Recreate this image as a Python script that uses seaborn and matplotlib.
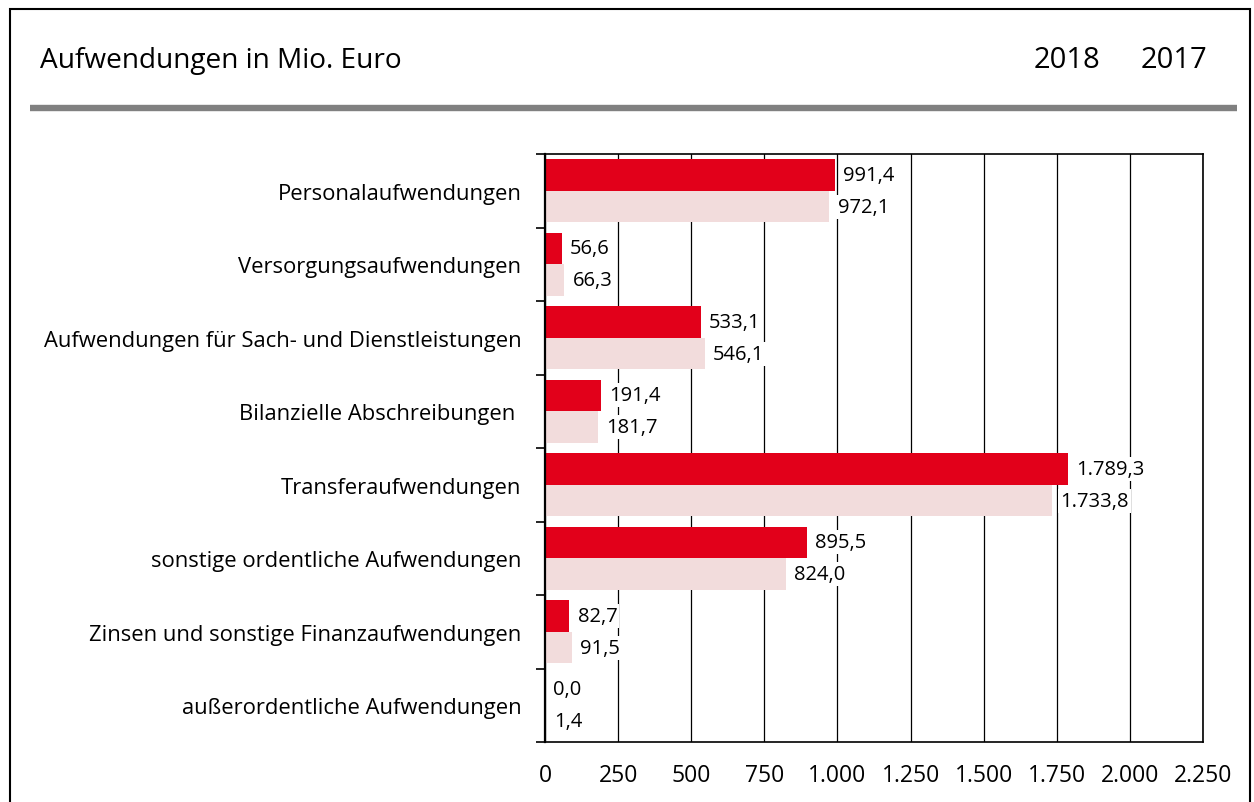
import pandas as pd
import matplotlib
matplotlib.use("Agg")
import matplotlib.pyplot as plt
from matplotlib.patches import Rectangle
from matplotlib.lines import Line2D
import seaborn as sns

kategorien = [
    "Personalaufwendungen",
    "Versorgungsaufwendungen",
    "Aufwendungen für Sach- und Dienstleistungen",
    "Bilanzielle Abschreibungen ",
    "Transferaufwendungen",
    "sonstige ordentliche Aufwendungen",
    "Zinsen und sonstige Finanzaufwendungen",
    "außerordentliche Aufwendungen",
]
werte_2018 = [991.4, 56.6, 533.1, 191.4, 1789.3, 895.5, 82.7, 0.0]
werte_2017 = [972.1, 66.3, 546.1, 181.7, 1733.8, 824.0, 91.5, 1.4]
jahre = ["2018", "2017"]
x_ticks = [0, 250, 500, 750, 1000, 1250, 1500, 1750, 2000, 2250]

df = pd.DataFrame({
    "Kategorie": kategorien * 2,
    "Jahr": [jahre[0]] * len(kategorien) + [jahre[1]] * len(kategorien),
    "Wert": werte_2018 + werte_2017,
})


def de_format(v, dec=1):
    s = f"{v:,.{dec}f}"
    return s.replace(",", "X").replace(".", ",").replace("X", ".")


sns.set_theme(style="white")
plt.rcParams["font.family"] = ["Open Sans", "DejaVu Sans"]
plt.rcParams["text.color"] = "black"
plt.rcParams["xtick.color"] = "black"
plt.rcParams["ytick.color"] = "black"

fig = plt.figure(figsize=(12.54, 8.03), dpi=100)
ax = fig.add_axes([545 / 1254, 1 - 743 / 803, (1203 - 545) / 1254, (743 - 155) / 803])

sns.barplot(data=df, y="Kategorie", x="Wert", hue="Jahr", orient="h",
            palette=["#e2001a", "#f2dcdc"], width=0.86, saturation=1,
            ax=ax, legend=False, edgecolor="none")

for cont, werte in zip(ax.containers, [werte_2018, werte_2017]):
    ax.bar_label(cont, labels=[de_format(v) for v in werte], padding=6,
                 fontsize=14.5, color="black",
                 bbox=dict(boxstyle="square,pad=0.1", fc="white", ec="none"))

ax.set_xlim(0, 2250)
ax.set_ylim(7.5, -0.5)
ax.set_xticks(x_ticks)
ax.set_xticklabels([de_format(t, 0) for t in x_ticks])
ax.set_xlabel("")
ax.set_ylabel("")
ax.grid(axis="x", color="black", lw=0.9)
ax.set_axisbelow(True)
ax.tick_params(axis="x", length=0, pad=15, labelsize=16.5)
ax.tick_params(axis="y", which="major", length=0, pad=17, labelsize=15.8)
ax.set_yticks([i - 0.5 for i in range(len(kategorien) + 1)], minor=True)
ax.tick_params(axis="y", which="minor", length=6.5, width=1.2, color="black", direction="out", left=True)
for side, sp in ax.spines.items():
    sp.set_color("black")
    sp.set_linewidth(1.2)
ax.spines["left"].set_linewidth(1.6)

# Kopfzeile
fig.text(40 / 1254, 1 - 61 / 803, "Aufwendungen in Mio. Euro", fontsize=20.2, va="center", ha="left")
fig.text(1067 / 1254, 1 - 61 / 803, jahre[0], fontsize=21, va="center", ha="center")
fig.text(1174 / 1254, 1 - 61 / 803, jahre[1], fontsize=21, va="center", ha="center")
fig.add_artist(Line2D([30 / 1254, 1237 / 1254], [1 - 108.5 / 803] * 2, color="#808080", lw=4.6,
                      transform=fig.transFigure, solid_capstyle="butt"))
fig.add_artist(Rectangle((10 / 1254, -0.05), (1250 - 10) / 1254, 1.05 - 10 / 803,
                         transform=fig.transFigure, fill=False, ec="black", lw=1.5))

fig.savefig("out.png", dpi=100)
